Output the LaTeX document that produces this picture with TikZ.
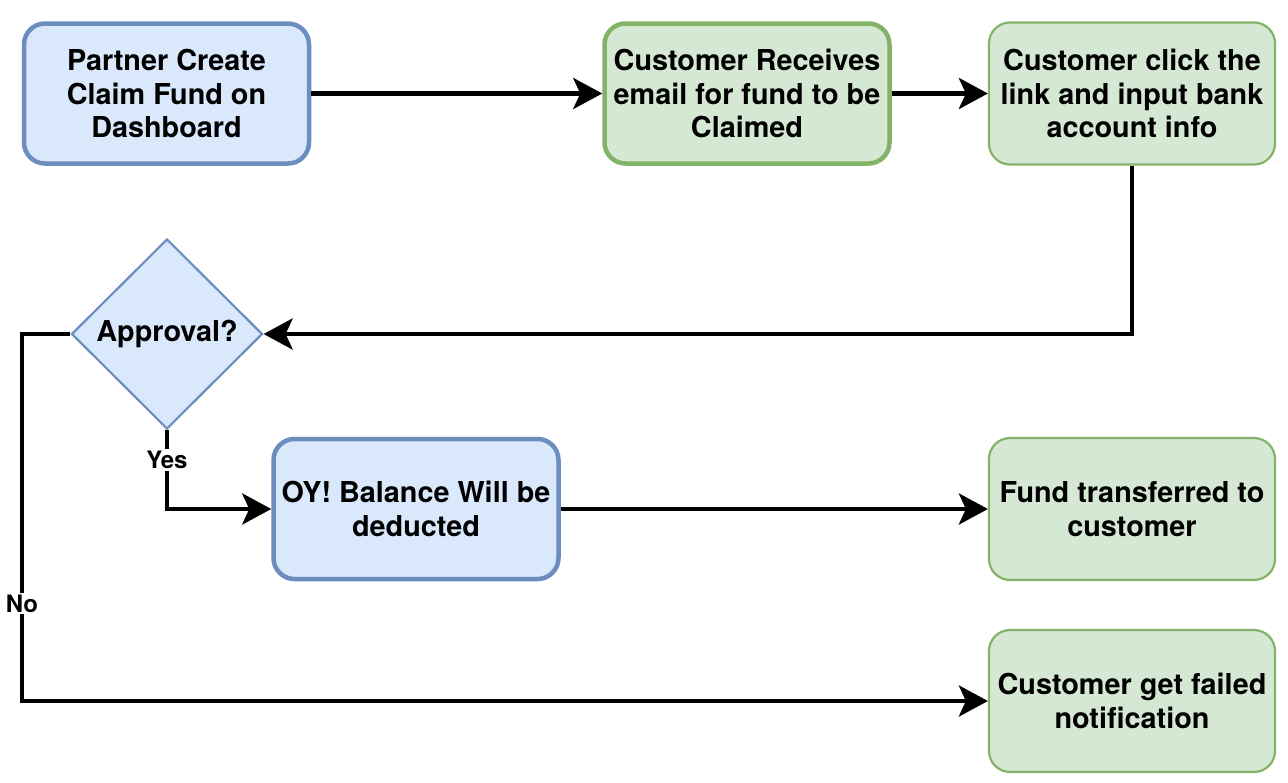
\documentclass[tikz,border=0pt]{standalone}
\usepackage{fontspec}
\setmainfont{TeX Gyre Heros}
\usetikzlibrary{shapes.geometric,arrows.meta}
\definecolor{bluefill}{HTML}{DAE8FC}
\definecolor{bluedraw}{HTML}{6C8EBF}
\definecolor{greenfill}{HTML}{D5E8D4}
\definecolor{greendraw}{HTML}{82B366}
\tikzset{
  boxbase/.style={rectangle, rounded corners=21pt, inner sep=0pt, align=center,
    font=\fontsize{28.8}{33.5}\selectfont\bfseries},
  bluebox/.style={boxbase, fill=bluefill, draw=bluedraw, line width=4.5pt,
    minimum width=285pt, minimum height=140pt},
  greenthick/.style={boxbase, fill=greenfill, draw=greendraw, line width=4.5pt,
    minimum width=285pt, minimum height=140pt},
  greenbox/.style={boxbase, fill=greenfill, draw=greendraw, line width=2.2pt,
    minimum width=286pt, minimum height=142pt},
  decision/.style={diamond, aspect=1, inner sep=0pt, fill=bluefill, draw=bluedraw,
    line width=2.2pt, minimum width=191pt, minimum height=190pt,
    font=\fontsize{28.8}{33.5}\selectfont\bfseries},
  flow/.style={line width=4.6pt, draw=black,
    -{Stealth[length=29pt, width=31pt, inset=7pt]}},
  lbl/.style={fill=white, inner sep=2pt, font=\fontsize{24}{28}\selectfont\bfseries}
}
\begin{document}
\begin{tikzpicture}[x=1pt, y=-1pt]
  \useasboundingbox (0,0) rectangle (1288,782);
  \node[bluebox] (b1) at (166.5,93.5) {Partner Create\\Claim Fund on\\Dashboard};
  \node[greenthick] (b2) at (747,93.5) {Customer Receives\\email for fund to be\\Claimed};
  \node[greenbox] (b3) at (1132,93.5) {Customer click the\\link and input bank\\account info};
  \node[decision] (d) at (167,334) {Approval?};
  \node[bluebox] (b5) at (416,509) {OY! Balance Will be\\deducted};
  \node[greenbox] (b6) at (1132,509) {Fund transferred to\\customer};
  \node[greenbox] (b7) at (1132,701) {Customer get failed\\notification};
  \coordinate (nc) at (22,334);

  \draw[flow] (b1.east) -- (b2.west);
  \draw[flow] (b2.east) -- (b3.west);
  \draw[flow] (b3.south) |- (d.east);
  \draw[flow] (d.south) |- node[lbl, pos=0.19] {Yes} (b5.west);
  \draw[flow] (b5.east) -- (b6.west);
  \draw[flow] (d.west) -- (nc) |- node[lbl, pos=0.367] {No} (b7.west);
\end{tikzpicture}
\end{document}
